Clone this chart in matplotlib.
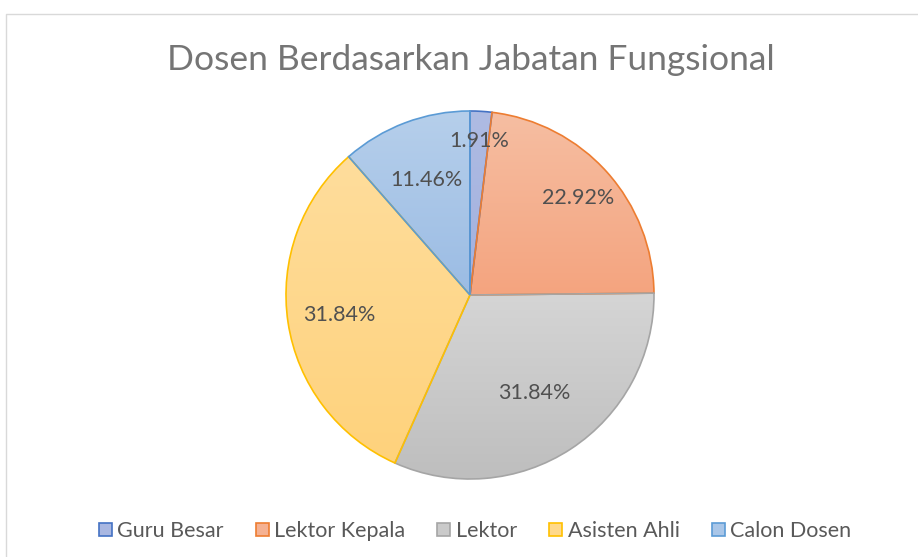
import matplotlib
matplotlib.use("Agg")
import matplotlib.pyplot as plt
import numpy as np
from matplotlib.patches import Patch
from matplotlib.colors import to_rgb

plt.rcParams['font.family'] = ['Lato', 'DejaVu Sans']

title = "Dosen Berdasarkan Jabatan Fungsional"
categories = ["Guru Besar", "Lektor Kepala", "Lektor", "Asisten Ahli", "Calon Dosen"]
values = [1.91, 22.92, 31.84, 31.84, 11.46]
labels = ["1.91%", "22.92%", "31.84%", "31.84%", "11.46%"]

edge_colors = ["#4472C4", "#ED7D31", "#A5A5A5", "#FFC000", "#5B9BD5"]
top_colors = ["#AEBBE3", "#F6BEA2", "#D5D5D5", "#FFDD9C", "#B6CFEB"]
bot_colors = ["#A3B1DE", "#F4A47F", "#BEBEBE", "#FED27C", "#9BBCE4"]
legend_colors = ["#A9B7E1", "#F5B192", "#CACACA", "#FFD98C", "#A9C6E8"]
label_dist = [0.84, 0.79, 0.64, 0.72, 0.67]

W, H = 918, 557
fig = plt.figure(figsize=(W / 100, H / 100), dpi=100)
ax = fig.add_axes([0, 0, 1, 1])

cx, cy, R = 470, H - 295, 184
wedges, _ = ax.pie(values, startangle=90, counterclock=False, center=(cx, cy), radius=R,
                   colors=legend_colors,
                   wedgeprops=dict(edgecolor="none", linewidth=0))
ax.set_xlim(0, W)
ax.set_ylim(0, H)
ax.set_aspect('auto')
ax.axis('off')

for w, ec, tc, bc, d, lab in zip(wedges, edge_colors, top_colors, bot_colors, label_dist, labels):
    bb = w.get_path().get_extents(w.get_patch_transform())
    n = 64
    t = np.linspace(0, 1, n)[:, None]
    c0 = np.array(to_rgb(tc)); c1 = np.array(to_rgb(bc))
    grad = (c0[None, :] * (1 - t) + c1[None, :] * t)[:, None, :]
    im = ax.imshow(grad, extent=(bb.x0, bb.x1, bb.y0, bb.y1), origin='upper', aspect='auto',
                   zorder=1, interpolation='bilinear')
    im.set_clip_path(w)
    w.set_facecolor('none')
    w.set_edgecolor(ec)
    w.set_linewidth(1.2)
    w.set_zorder(2)
    ang = np.deg2rad((w.theta1 + w.theta2) / 2)
    ax.text(cx + d * R * np.cos(ang), cy + d * R * np.sin(ang), lab,
            ha='center', va='center', fontsize=15.5, color='#505050', zorder=3)

ax.set_xlim(0, W)
ax.set_ylim(0, H)

# chart border
ax.plot([5.5, 5.5, W], [0, H - 13.5, H - 13.5], color='#D9D9D9', lw=1.0, zorder=0)

fig.text(471 / W, 1 - 60 / H, title, ha='center', va='center', fontsize=25.5,
         fontweight='normal', color='#757575')

handles = [Patch(facecolor=fc, edgecolor=ec, linewidth=1.2) for fc, ec in zip(legend_colors, edge_colors)]
fig.legend(handles, categories, loc='center', bbox_to_anchor=(475 / W, 1 - 531 / H), ncol=5,
           frameon=False, fontsize=15.5, handlelength=0.6, handleheight=0.6, handletextpad=0.25,
           columnspacing=1.5, labelcolor='#595959')

fig.savefig("out.png", dpi=100)
